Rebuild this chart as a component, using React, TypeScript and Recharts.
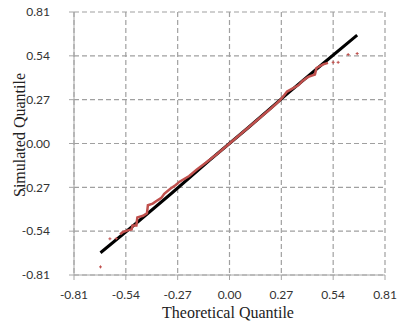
import {
  ComposedChart,
  Line,
  Scatter,
  XAxis,
  YAxis,
  CartesianGrid,
  Label,
} from 'recharts';

const TICKS = [-0.81, -0.54, -0.27, 0, 0.27, 0.54, 0.81];

// theoretical vs theoretical (reference line, drawn as dense black points)
const theoreticalLine = [
  { x: -0.672, y: -0.673 },
  { x: -0.5, y: -0.505 },
  { x: -0.3, y: -0.305 },
  { x: -0.1, y: -0.1 },
  { x: 0.1, y: 0.1 },
  { x: 0.3, y: 0.305 },
  { x: 0.5, y: 0.505 },
  { x: 0.665, y: 0.667 },
];

// simulated quantiles, dense middle part
const simulatedDense = [
  { x: -0.57, y: -0.56 },
  { x: -0.555, y: -0.545 },
  { x: -0.53, y: -0.535 },
  { x: -0.51, y: -0.53 },
  { x: -0.505, y: -0.505 },
  { x: -0.485, y: -0.505 },
  { x: -0.48, y: -0.455 },
  { x: -0.45, y: -0.445 },
  { x: -0.43, y: -0.43 },
  { x: -0.425, y: -0.38 },
  { x: -0.4, y: -0.37 },
  { x: -0.375, y: -0.35 },
  { x: -0.355, y: -0.335 },
  { x: -0.34, y: -0.31 },
  { x: -0.31, y: -0.28 },
  { x: -0.28, y: -0.255 },
  { x: -0.26, y: -0.235 },
  { x: -0.21, y: -0.2 },
  { x: -0.17, y: -0.16 },
  { x: -0.12, y: -0.115 },
  { x: -0.06, y: -0.06 },
  { x: 0, y: 0 },
  { x: 0.08, y: 0.08 },
  { x: 0.16, y: 0.16 },
  { x: 0.22, y: 0.22 },
  { x: 0.262, y: 0.265 },
  { x: 0.28, y: 0.29 },
  { x: 0.3, y: 0.32 },
  { x: 0.33, y: 0.34 },
  { x: 0.36, y: 0.36 },
  { x: 0.38, y: 0.385 },
  { x: 0.41, y: 0.41 },
  { x: 0.445, y: 0.425 },
  { x: 0.453, y: 0.465 },
  { x: 0.488, y: 0.487 },
  { x: 0.513, y: 0.497 },
];

// simulated quantiles, isolated tail points
const simulatedTails = [
  { x: -0.672, y: -0.76 },
  { x: -0.623, y: -0.587 },
  { x: -0.59, y: -0.585 },
  { x: 0.54, y: 0.5 },
  { x: 0.566, y: 0.5 },
  { x: 0.618, y: 0.548 },
  { x: 0.665, y: 0.554 },
];

const RED = '#c0504d';
const tickStyle = { fontFamily: 'Lato', fontSize: 12, fill: '#333' };
const titleStyle = { fontFamily: 'Liberation Serif', fontSize: 16, fill: '#222' };

const SmallMark = (props: any) => {
  const { cx, cy } = props;
  return (
    <g>
      <rect x={cx - 1.5} y={cy - 0.5} width={3} height={1} fill={RED} />
      <rect x={cx - 0.5} y={cy - 1.5} width={1} height={3} fill={RED} />
    </g>
  );
};

export default function App() {
  return (
    <div style={{ position: 'absolute', left: 0, top: 0, background: '#fff' }}>
      <ComposedChart
        width={400}
        height={326}
        margin={{ top: 12, right: 15, bottom: 0, left: 0 }}
      >
        <CartesianGrid stroke="#a0a0a0" strokeWidth={1.2} strokeDasharray="5 3" />
        <XAxis
          type="number"
          dataKey="x"
          domain={[-0.81, 0.81]}
          ticks={TICKS}
          tickFormatter={(v: number) => v.toFixed(2)}
          stroke="#a6a6a6"
          tickSize={5}
          tickMargin={10}
          height={51}
          tick={tickStyle}
          allowDataOverflow
        >
          <Label
            content={() => (
              <text x={228} y={318} textAnchor="middle" style={titleStyle}>
                Theoretical Quantile
              </text>
            )}
          />
        </XAxis>
        <YAxis
          type="number"
          dataKey="y"
          domain={[-0.81, 0.81]}
          ticks={TICKS}
          tickFormatter={(v: number) => v.toFixed(2)}
          stroke="#a6a6a6"
          tickSize={5}
          tickMargin={19}
          width={74}
          tick={tickStyle}
          allowDataOverflow
        >
          <Label
            content={() => (
              <text
                x={19}
                y={135}
                textAnchor="middle"
                dominantBaseline="central"
                transform="rotate(-90 19 135)"
                style={titleStyle}
              >
                Simulated Quantile
              </text>
            )}
          />
        </YAxis>
        <Line
          data={theoreticalLine}
          dataKey="y"
          stroke="#000"
          strokeWidth={3}
          dot={false}
          isAnimationActive={false}
        />
        <Line
          data={simulatedDense}
          dataKey="y"
          stroke={RED}
          strokeWidth={2.5}
          dot={false}
          isAnimationActive={false}
        />
        <Scatter
          data={simulatedTails}
          dataKey="y"
          shape={SmallMark}
          isAnimationActive={false}
        />
      </ComposedChart>
    </div>
  );
}
